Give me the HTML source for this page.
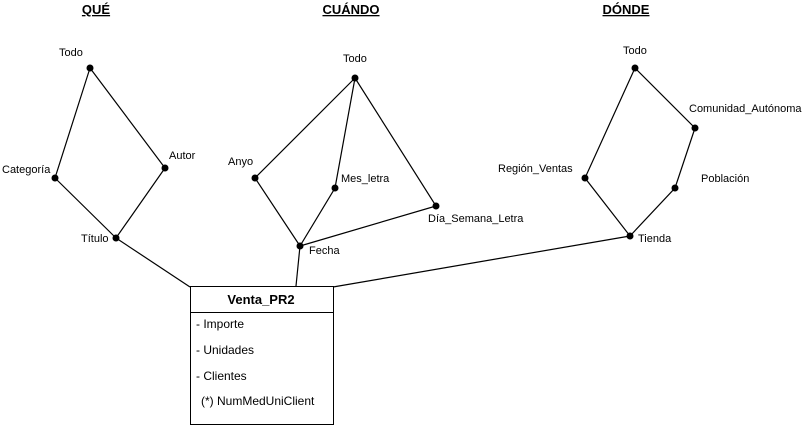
<!DOCTYPE html>
<html><head><meta charset="utf-8"><style>
body{margin:0;background:#fff;}
svg{display:block;font-family:"Liberation Sans",Arial,sans-serif;}
</style></head><body>
<svg width="804" height="430" viewBox="0 0 804 430" xmlns="http://www.w3.org/2000/svg">
<g font-size="13" font-weight="bold" text-anchor="middle" text-decoration="underline">
<text x="96" y="14">QUÉ</text>
<text x="351" y="14">CUÁNDO</text>
<text x="626" y="14">DÓNDE</text>
</g>
<g stroke="#000" stroke-width="1.2" fill="none">
<polyline points="90,68 55,178 116,238 165,168 90,68"/>
<line x1="116" y1="238" x2="190" y2="287"/>
<polyline points="355,78 255,178 300,246 335,188 355,78 436,206 300,246"/>
<line x1="300" y1="246" x2="296" y2="286"/>
<polyline points="635,68 585,178 630,236 675,188 695,128 635,68"/>
<line x1="630" y1="236" x2="333" y2="287"/>
</g>
<g fill="#000">
<circle cx="90" cy="68" r="3.5"/><circle cx="55" cy="178" r="3.5"/><circle cx="116" cy="238" r="3.5"/><circle cx="165" cy="168" r="3.5"/>
<circle cx="355" cy="78" r="3.5"/><circle cx="255" cy="178" r="3.5"/><circle cx="300" cy="246" r="3.5"/><circle cx="335" cy="188" r="3.5"/><circle cx="436" cy="206" r="3.5"/>
<circle cx="635" cy="68" r="3.5"/><circle cx="585" cy="178" r="3.5"/><circle cx="630" cy="236" r="3.5"/><circle cx="675" cy="188" r="3.5"/><circle cx="695" cy="128" r="3.5"/>
</g>
<g font-size="11" fill="#000">
<text x="59" y="56">Todo</text>
<text x="2" y="173">Categoría</text>
<text x="169" y="159">Autor</text>
<text x="81" y="242">Título</text>
<text x="343" y="62">Todo</text>
<text x="228" y="165">Anyo</text>
<text x="341" y="182">Mes_letra</text>
<text x="428" y="222">Día_Semana_Letra</text>
<text x="309" y="254">Fecha</text>
<text x="623" y="54">Todo</text>
<text x="689" y="112">Comunidad_Autónoma</text>
<text x="498" y="172">Región_Ventas</text>
<text x="701" y="182">Población</text>
<text x="638" y="242">Tienda</text>
</g>
<rect x="190.5" y="286.5" width="143" height="138" fill="#fff" stroke="#000" stroke-width="1"/>
<line x1="190" y1="312.5" x2="334" y2="312.5" stroke="#000"/>
<text x="261" y="304" font-size="13" font-weight="bold" text-anchor="middle">Venta_PR2</text>
<g font-size="12">
<text x="196" y="328">- Importe</text>
<text x="196" y="354">- Unidades</text>
<text x="196" y="380">- Clientes</text>
<text x="201" y="405">(*) NumMedUniClient</text>
</g>
</svg>
</body></html>
